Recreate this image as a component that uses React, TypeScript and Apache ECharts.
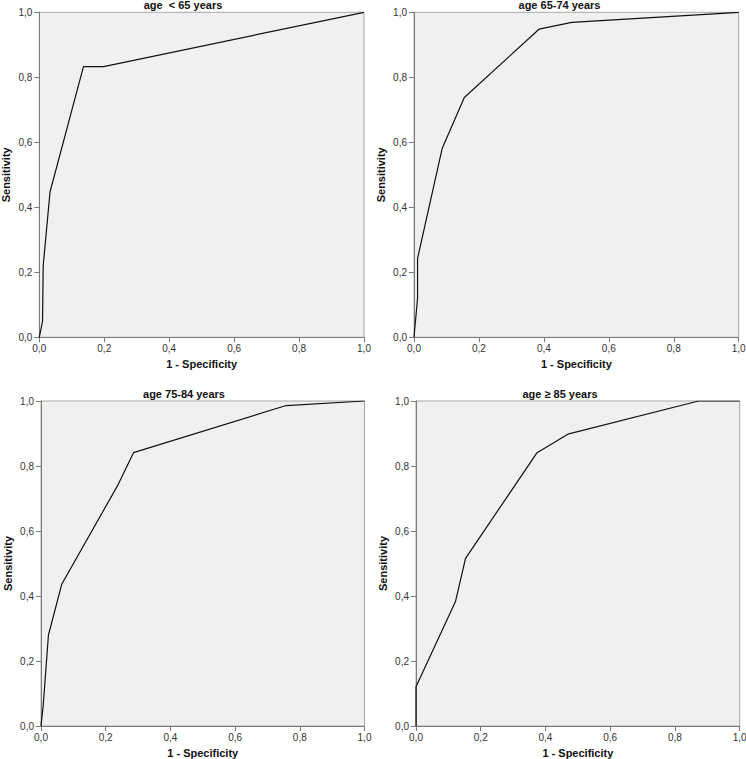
import React, { useEffect, useRef } from "react";
import * as echarts from "echarts";

// ---- data ----
const TITLES = ["age  < 65 years", "age 65-74 years", "age 75-84 years", "age \u2265 85 years"];
const X_NAME = "1 - Specificity";
const Y_NAME = "Sensitivity";
const TICK_VALUES = [0, 0.2, 0.4, 0.6, 0.8, 1.0];
const TICK_LABELS = ["0,0", "0,2", "0,4", "0,6", "0,8", "1,0"];

const lt65X = [0, 0.010, 0.012, 0.033, 0.136, 0.198, 1];
const lt65Y = [0, 0.05, 0.22, 0.447, 0.833, 0.833, 1];

const a6574X = [0, 0.011, 0.011, 0.087, 0.155, 0.385, 0.486, 1];
const a6574Y = [0, 0.12, 0.243, 0.582, 0.738, 0.948, 0.969, 1];

const a7584X = [0, 0.007, 0.023, 0.064, 0.238, 0.286, 0.758, 1];
const a7584Y = [0, 0.065, 0.28, 0.436, 0.742, 0.841, 0.986, 1];

const ge85X = [0, 0, 0.122, 0.153, 0.374, 0.469, 0.873, 1];
const ge85Y = [0, 0.121, 0.383, 0.516, 0.841, 0.898, 1.0, 1];

const SERIES_X = [lt65X, a6574X, a7584X, ge85X];
const SERIES_Y = [lt65Y, a6574Y, a7584Y, ge85Y];

// ---- layout ----
const PANELS = [
  { left: 39.3, top: 12.3, width: 324.7, height: 325, colCenter: 183 },
  { left: 414, top: 12.3, width: 324.7, height: 325, colCenter: 559.5 },
  { left: 41, top: 401, width: 323.5, height: 325, colCenter: 184 },
  { left: 416, top: 401, width: 323.7, height: 325, colCenter: 560 },
];

const FONT = "'Liberation Sans', Arial, sans-serif";

function fmt(v: number) {
  const i = TICK_VALUES.findIndex((t) => Math.abs(t - v) < 1e-6);
  return i >= 0 ? TICK_LABELS[i] : "";
}

export default function App() {
  const ref = useRef<HTMLDivElement>(null);
  useEffect(() => {
    document.body.style.margin = "0";
    const chart = echarts.init(ref.current!, null, { renderer: "svg" });
    const grid: any[] = [];
    const xAxis: any[] = [];
    const yAxis: any[] = [];
    const series: any[] = [];
    const graphic: any[] = [];
    PANELS.forEach((p, i) => {
      grid.push({
        left: p.left,
        top: p.top,
        width: p.width,
        height: p.height,
        show: true,
        backgroundColor: "#f0f0f0",
        borderColor: "#a8a8a8",
        borderWidth: 1,
        containLabel: false,
        outerBoundsMode: "none",
      });
      const axisCommon = {
        gridIndex: i,
        type: "value",
        min: 0,
        max: 1,
        interval: 0.2,
        splitLine: { show: false },
        axisLine: { show: true, lineStyle: { color: "#7a7a7a", width: 1 } },
        axisTick: { show: true, length: 5, lineStyle: { color: "#7a7a7a" } },
        axisLabel: {
          formatter: fmt,
          fontSize: 10,
          color: "#333",
          fontFamily: FONT,
          showMinLabel: true,
          showMaxLabel: true,
        },
      };
      xAxis.push({ ...axisCommon, axisLabel: { ...axisCommon.axisLabel, margin: 6 } });
      yAxis.push({ ...axisCommon, axisLabel: { ...axisCommon.axisLabel, margin: 7 } });
      series.push({
        type: "line",
        xAxisIndex: i,
        yAxisIndex: i,
        data: SERIES_X[i].map((x, k) => [x, SERIES_Y[i][k]]),
        showSymbol: false,
        symbol: "none",
        lineStyle: { color: "#111", width: 1.2 },
        silent: true,
      });
      graphic.push({
        type: "text",
        x: p.colCenter,
        y: p.top - 7,
        style: {
          text: TITLES[i],
          font: `bold 11px ${FONT}`,
          fill: "#111",
          textAlign: "center",
          textVerticalAlign: "middle",
        },
      });
      graphic.push({
        type: "text",
        x: p.left + p.width / 2,
        y: p.top + p.height + 27,
        style: {
          text: X_NAME,
          font: `bold 11px ${FONT}`,
          fill: "#111",
          textAlign: "center",
          textVerticalAlign: "middle",
        },
      });
      graphic.push({
        type: "text",
        x: p.left - 33.5,
        y: p.top + p.height / 2,
        rotation: Math.PI / 2,
        style: {
          text: Y_NAME,
          font: `bold 11px ${FONT}`,
          fill: "#111",
          textAlign: "center",
          textVerticalAlign: "middle",
        },
      });
    });
    chart.setOption({
      animation: false,
      backgroundColor: "#ffffff",
      grid,
      xAxis,
      yAxis,
      series,
      graphic,
    });
    return () => chart.dispose();
  }, []);
  return (
    <div
      ref={ref}
      style={{ position: "absolute", left: 0, top: 0, width: 746, height: 759 }}
    />
  );
}
